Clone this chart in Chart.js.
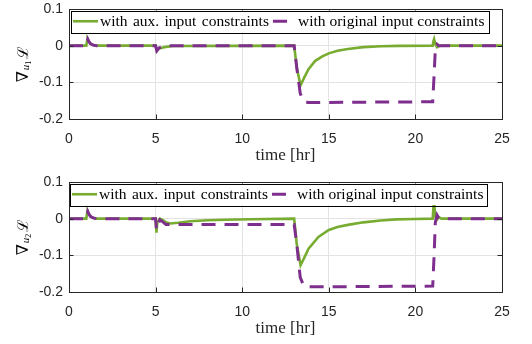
<!DOCTYPE html>
<html>
<head>
<meta charset="utf-8">
<script src="https://cdn.jsdelivr.net/npm/chart.js@4.4.1/dist/chart.umd.min.js"></script>
<style>
  html, body { margin: 0; padding: 0; background: #ffffff; }
  #wrap { position: relative; width: 532px; height: 344px; overflow: hidden; }
  canvas { position: absolute; left: 0; }
</style>
</head>
<body>
<div id="wrap">
  <canvas id="c1" width="532" height="172" style="top:0px"></canvas>
  <canvas id="c2" width="532" height="172" style="top:173px"></canvas>
</div>
<script>
// ---------------- data ----------------
const xTicks = [0, 5, 10, 15, 20, 25];
const yTicks = [-0.2, -0.1, 0, 0.1];
const yTickLabels = ['-0.2', '-0.1', '0', '0.1'];
const xTitle = 'time [hr]';
const seriesNames = ['with aux. input constraints', 'with original input constraints'];

// panel 1 : gradient w.r.t. u1
const t_u1_aux = [0, 1.0, 1.04, 1.08, 1.15, 1.25, 1.4, 1.6, 5.0, 5.07, 5.2, 5.5, 6.0, 13.0, 13.15, 13.37, 13.6, 13.83, 14.2, 14.6, 15.0, 15.5, 16.1, 17.0, 18.0, 19.0, 21.0, 21.04, 21.08, 21.15, 21.25, 21.35, 21.5, 25];
const v_u1_aux = [0, 0, 0.012, 0.018, 0.011, 0.005, 0.0015, 0, 0, -0.014, -0.008, -0.004, -0.001, 0, -0.06, -0.108, -0.085, -0.064, -0.042, -0.03, -0.021, -0.014, -0.009, -0.004, -0.0015, -0.0005, 0, 0.012, 0.018, 0.004, -0.004, -0.001, 0, 0];
const t_u1_orig = [0, 1.0, 1.04, 1.08, 1.15, 1.25, 1.4, 1.6, 5.0, 5.07, 5.2, 5.5, 13.0, 13.15, 13.35, 13.55, 13.8, 21.0, 21.08, 21.15, 21.25, 21.35, 25];
const v_u1_orig = [0, 0, 0.012, 0.018, 0.011, 0.005, 0.0015, 0, 0, -0.014, -0.006, 0, 0, -0.06, -0.13, -0.152, -0.155, -0.153, -0.08, -0.01, 0.004, 0, 0];

// panel 2 : gradient w.r.t. u2
const t_u2_aux = [0, 1.0, 1.04, 1.08, 1.15, 1.25, 1.4, 1.6, 5.0, 5.05, 5.1, 5.25, 5.4, 5.6, 5.85, 6.3, 7.0, 8.0, 9.0, 10.5, 13.0, 13.15, 13.37, 13.6, 13.83, 14.4, 15.0, 15.5, 16.1, 17.0, 18.0, 18.9, 20.0, 21.0, 21.04, 21.08, 21.15, 21.25, 21.35, 21.5, 25];
const v_u2_aux = [0, 0, 0.014, 0.02, 0.012, 0.006, 0.002, 0, 0, -0.038, -0.01, 0, -0.003, -0.01, -0.013, -0.011, -0.007, -0.0045, -0.003, -0.0015, 0, -0.07, -0.127, -0.105, -0.082, -0.05, -0.031, -0.023, -0.017, -0.01, -0.005, -0.002, -0.0008, 0, 0.03, 0.043, 0.006, -0.002, 0.004, 0, 0];
const t_u2_orig = [0, 1.0, 1.04, 1.08, 1.15, 1.25, 1.4, 1.6, 5.0, 5.05, 5.1, 5.25, 5.4, 5.6, 13.0, 13.15, 13.35, 13.55, 13.8, 21.0, 21.08, 21.15, 21.25, 21.35, 21.5, 25];
const v_u2_orig = [0, 0, 0.014, 0.02, 0.012, 0.006, 0.002, 0, 0, -0.03, -0.02, -0.003, -0.008, -0.016, -0.016, -0.07, -0.16, -0.183, -0.186, -0.184, -0.1, -0.01, 0.01, 0.002, 0, 0];

// ---------------- styles ----------------
const GREEN = '#77AC30';
const PURPLE = '#7E2F8E';
const AXIS = '#262626';
const GRID = '#e3e3e3';
const SANS = "'Liberation Sans', Arial, sans-serif";
const SERIF = "'Liberation Serif', 'Times New Roman', serif";

function pts(ts, vs) { return ts.map((t, i) => ({ x: t, y: vs[i] })); }

const decorPlugin = {
  id: 'decor',
  afterDatasetsDraw(chart, args, opts) {
    const ctx = chart.ctx;
    const ca = chart.chartArea;
    const xs = chart.scales.x, ys = chart.scales.y;
    ctx.save();
    // frame
    ctx.strokeStyle = AXIS;
    ctx.lineWidth = 1;
    ctx.strokeRect(Math.round(ca.left) + 0.5, Math.round(ca.top) + 0.5,
                   Math.round(ca.right - ca.left), Math.round(ca.bottom - ca.top));
    // inward ticks
    ctx.beginPath();
    xTicks.forEach(v => {
      const px = Math.round(xs.getPixelForValue(v)) + 0.5;
      ctx.moveTo(px, ca.bottom); ctx.lineTo(px, ca.bottom - 4.5);
      ctx.moveTo(px, ca.top); ctx.lineTo(px, ca.top + 4.5);
    });
    yTicks.forEach(v => {
      const py = Math.round(ys.getPixelForValue(v)) + 0.5;
      ctx.moveTo(ca.left, py); ctx.lineTo(ca.left + 4.5, py);
      ctx.moveTo(ca.right, py); ctx.lineTo(ca.right - 4.5, py);
    });
    ctx.stroke();

    // legend box
    const L = opts.legend;
    const by0 = ca.top + 1.5, by1 = ca.top + 23;
    const midY = (by0 + by1) / 2;
    ctx.fillStyle = '#ffffff';
    ctx.fillRect(L.left, by0, L.right - L.left, by1 - by0);
    ctx.strokeStyle = '#000000';
    ctx.lineWidth = 1;
    ctx.strokeRect(L.left + 0.5, Math.round(by0) + 0.5, L.right - L.left, Math.round(by1 - by0));
    const ds = chart.data.datasets;
    ctx.lineWidth = ds[0].borderWidth;
    ctx.strokeStyle = ds[0].borderColor;
    ctx.setLineDash([]);
    ctx.beginPath(); ctx.moveTo(L.left + 2, midY); ctx.lineTo(L.left + 27, midY); ctx.stroke();
    ctx.lineWidth = ds[1].borderWidth;
    ctx.strokeStyle = ds[1].borderColor;
    ctx.setLineDash(ds[1].borderDash);
    ctx.beginPath(); ctx.moveTo(L.s2, midY); ctx.lineTo(L.s2 + 23, midY); ctx.stroke();
    ctx.setLineDash([]);
    ctx.fillStyle = '#000000';
    ctx.font = '15.5px ' + SERIF;
    ctx.textBaseline = 'middle';
    ctx.textAlign = 'left';
    ctx.wordSpacing = '1.5px';
    ctx.fillText(ds[0].label, L.left + 29, midY + 0.5);
    ctx.wordSpacing = '0px';
    ctx.fillText(ds[1].label, L.s2 + 25, midY + 0.5);

    // y-axis label
    ctx.save();
    ctx.translate(opts.ylabX, (ca.top + ca.bottom) / 2);
    ctx.rotate(-Math.PI / 2);
    ctx.fillStyle = '#000000';
    ctx.textBaseline = 'alphabetic';
    ctx.textAlign = 'left';
    const f1 = "16px 'DejaVu Serif', serif";
    const f2 = "italic 11px " + SERIF;
    const f3 = "8px " + SERIF;
    const f4 = "15px 'DejaVu Serif', serif";
    ctx.font = f1; const w1 = ctx.measureText('\u2207').width;
    ctx.font = f2; const w2 = ctx.measureText('u').width;
    ctx.font = f3; const w3 = ctx.measureText(opts.sub).width;
    ctx.font = f4; const w4 = ctx.measureText('\u2112').width;
    const total = w1 + w2 + w3 + w4 + 3;
    let x = -total / 2;
    ctx.font = f1; ctx.fillText('\u2207', x, 0); x += w1 + 1;
    ctx.font = f2; ctx.fillText('u', x, 1); x += w2;
    ctx.font = f3; ctx.fillText(opts.sub, x, 3); x += w3 + 2;
    ctx.font = f4; ctx.fillText('\u2112', x, 0);
    ctx.restore();
    ctx.restore();
  }
};

function makeChart(id, tA, vA, tO, vO, sub, legend) {
  return new Chart(document.getElementById(id), {
    type: 'line',
    data: {
      datasets: [
        { label: seriesNames[0], data: pts(tA, vA), borderColor: GREEN, borderWidth: 2.6,
          pointRadius: 0, tension: 0, fill: false, order: 2 },
        { label: seriesNames[1], data: pts(tO, vO), borderColor: PURPLE, borderWidth: 3,
          borderDash: [14, 9], pointRadius: 0, tension: 0, fill: false, order: 1 }
      ]
    },
    options: {
      responsive: false,
      animation: false,
      events: [],
      layout: { padding: { top: 9, right: 30, bottom: 0, left: 0 } },
      plugins: {
        legend: { display: false },
        tooltip: { enabled: false },
        decor: { sub: sub, ylabX: 28, legend: legend }
      },
      scales: {
        x: {
          type: 'linear', min: 0, max: 25,
          afterBuildTicks: s => { s.ticks = xTicks.map(v => ({ value: v })); },
          afterFit: s => { s.height = 53; s.paddingLeft = 0; s.paddingRight = 0; },
          grid: { color: GRID, lineWidth: 1, drawTicks: false },
          border: { display: false },
          ticks: { padding: 12, color: AXIS, font: { family: SANS, size: 14 }, maxRotation: 0,
                   callback: v => String(v) },
          title: { display: true, text: xTitle, color: AXIS, font: { family: SERIF, size: 17 },
                   padding: { top: 0, bottom: 6 } }
        },
        y: {
          type: 'linear', min: -0.2, max: 0.1,
          afterBuildTicks: s => { s.ticks = yTicks.map(v => ({ value: v })); },
          afterFit: s => { s.width = 69; s.paddingTop = 0; s.paddingBottom = 0; },
          grid: { color: GRID, lineWidth: 1, drawTicks: false },
          border: { display: false },
          ticks: { padding: 6, color: AXIS, font: { family: SANS, size: 14 },
                   callback: v => { const i = yTicks.findIndex(t => Math.abs(t - v) < 1e-9); return i >= 0 ? yTickLabels[i] : ''; } }
        }
      }
    },
    plugins: [decorPlugin]
  });
}

makeChart('c1', t_u1_aux, v_u1_aux, t_u1_orig, v_u1_orig, '1', { left: 71, right: 489, s2: 273 });
makeChart('c2', t_u2_aux, v_u2_aux, t_u2_orig, v_u2_orig, '2', { left: 70, right: 487, s2: 272 });
</script>
</body>
</html>
